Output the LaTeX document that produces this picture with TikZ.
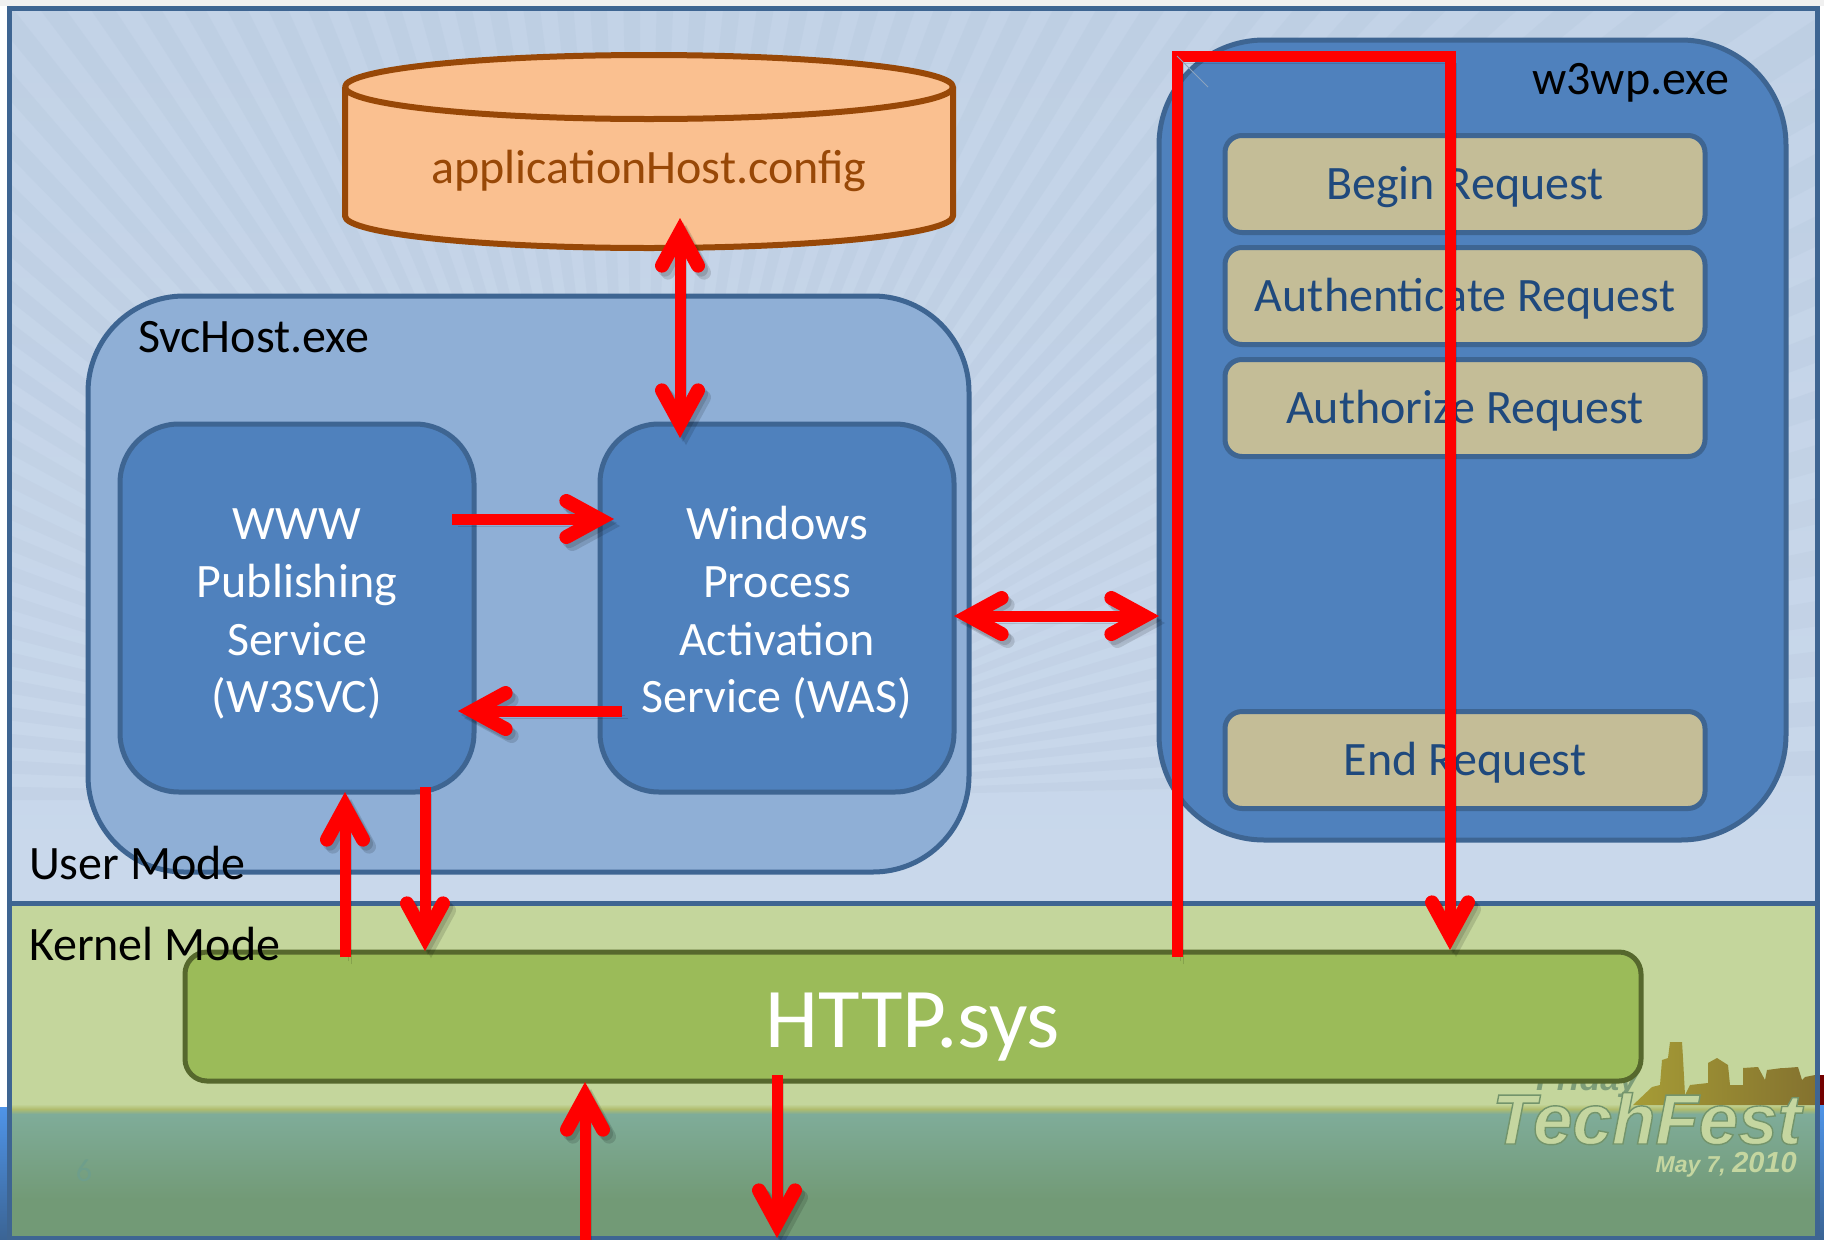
\documentclass[tikz,border=0pt]{standalone}
\usepackage{fontspec}
\setmainfont{Carlito}
\newfontfamily\logofont{Liberation Sans}
\usetikzlibrary{arrows.meta,calc}
\definecolor{skyA}{HTML}{C3D3E7}
\definecolor{skyB}{HTML}{C9D8EB}
\definecolor{rayC}{HTML}{B4C6DC}
\definecolor{frameC}{HTML}{3E6592}
\definecolor{kernelC}{HTML}{C4D69C}
\definecolor{waterA}{HTML}{7FAC99}
\definecolor{waterB}{HTML}{729A76}
\definecolor{stripA}{HTML}{4F94E8}
\definecolor{stripB}{HTML}{3B6494}
\definecolor{hostC}{HTML}{8FAFD6}
\definecolor{procC}{HTML}{4F81BD}
\definecolor{stepC}{HTML}{C4BD97}
\definecolor{stepT}{HTML}{1F497D}
\definecolor{httpC}{HTML}{9BBB59}
\definecolor{httpB}{HTML}{56682D}
\definecolor{cfgC}{HTML}{FAC090}
\definecolor{cfgB}{HTML}{984807}
\definecolor{logoC}{HTML}{C5D6A0}
\definecolor{logoS}{HTML}{5F8468}
\definecolor{skyL}{HTML}{A69C36}
\definecolor{skyR}{HTML}{84722F}
\definecolor{numC}{HTML}{6E9E8B}
\newcommand{\firstline}{\rule{0pt}{43pt}}
\tikzset{
  x=1pt,y=-1pt,
  boxbase/.style={draw=frameC,line width=5pt,outer sep=0pt,inner sep=0pt,align=center},
  hostbox/.style={boxbase,fill=hostC,rounded corners=96pt,minimum width=881pt,minimum height=576pt},
  procbox/.style={boxbase,fill=procC,rounded corners=59pt,minimum width=354pt,minimum height=368pt,text=white,font=\fontsize{48}{57.8}\selectfont},
  workerbox/.style={boxbase,fill=procC,rounded corners=105pt,minimum width=627pt,minimum height=800pt},
  stepbox/.style={boxbase,fill=stepC,rounded corners=17pt,minimum width=480pt,minimum height=97pt,text=stepT,text height=40pt,text depth=10pt,font=\fontsize{48}{55}\selectfont},
  httpbox/.style={boxbase,draw=httpB,fill=httpC,rounded corners=22pt,minimum width=1456pt,minimum height=129pt,text=white,text height=80pt,text depth=18pt,font=\fontsize{85}{96}\selectfont},
  plain label/.style={inner sep=0pt,outer sep=0pt,text=black,font=\fontsize{48}{56}\selectfont},
  redarrow/.style={draw=red,line width=11pt,line join=miter,
    >={Straight Barb[length=33pt,width=36pt,line width=14pt,line cap=round,line join=miter]},
    preaction={draw=black,draw opacity=.13,transform canvas={shift={(3pt,-4pt)}}},
    preaction={draw=black,draw opacity=.13,transform canvas={shift={(6pt,-7pt)}}}},
}
\begin{document}
\begin{tikzpicture}
\useasboundingbox (0,0) rectangle (1824,1240);
% page surround
\fill[white] (0,0) rectangle (1824,1240);
\fill[gray!12] (0,0) rectangle (1824,6);
\shade[top color=stripA,bottom color=stripB] (0,1107) rectangle (8,1240);
\shade[top color=stripA,bottom color=stripB] (1818,1105) rectangle (1824,1240);
\fill[red!45!black] (1818,1075) rectangle (1824,1105);
% user mode background with rays
\shade[top color=skyA,bottom color=skyB] (9,8) rectangle (1817,903);
\begin{scope}
  \clip (9,8) rectangle (1817,903);
  \foreach \a in {180,182.4,...,358}{
    \fill[rayC,opacity=.28] (640,800) -- ++(\a:2000) arc[start angle=\a,end angle=\a+1.2,radius=2000] -- cycle;
  }
\end{scope}
\foreach \y in {420,450,...,780}{
  \fill[skyB,opacity=.16] (9,\y) rectangle (1817,903);
}
% kernel mode + water
\fill[kernelC] (9,903) rectangle (1817,1105);
\shade[top color=kernelC,bottom color=waterA,middle color=kernelC!70!olive] (9,1104) rectangle (1817,1114);
\shade[top color=waterA,bottom color=waterB] (9,1114) rectangle (1817,1200);
\fill[waterB] (9,1200) rectangle (1817,1238);
\node[inner sep=0pt,text=numC,font=\fontsize{32}{36}\selectfont] (pagenum) at (84,1171) {6};
% TechFest logo
\shade[left color=skyL,right color=skyR] (1633,1105) -- (1652,1087) -- (1660,1085) -- (1662,1060) -- (1668,1058) -- (1670,1042) -- (1682,1042) -- (1683,1058) -- (1685,1095) -- (1690,1085) -- (1708,1083) -- (1708,1063) -- (1717,1058) -- (1728,1065) -- (1730,1085) -- (1743,1085) -- (1743,1068) -- (1758,1067) -- (1765,1080) -- (1767,1070) -- (1782,1068) -- (1785,1068) -- (1798,1067) -- (1802,1080) -- (1805,1077) -- (1815,1075) -- (1815,1105) -- cycle;
\node[inner sep=0pt,anchor=base west,text=logoS!70!kernelC,font=\logofont\bfseries\itshape\fontsize{34}{36}\selectfont] (friday) at (1536,1090) {Friday};
\node[inner sep=0pt,anchor=base west,text=logoC,font=\logofont\bfseries\itshape\fontsize{71}{72}\selectfont] (tech) at (1492,1144) {\special{pdf:code q 2 Tr 1.4 w 0.45 0.58 0.42 RG}TechFest\special{pdf:code Q}};
\node[inner sep=0pt,anchor=base east,text=logoC,font=\logofont\bfseries\itshape\fontsize{23}{26}\selectfont] (date) at (1797,1172) {May 7, {\fontsize{29}{30}\selectfont 2010}};
% frame and divider
\draw[frameC,line width=5pt] (9.5,8) rectangle (1817,1238.5);
\draw[frameC,line width=5pt] (9.5,903) -- (1817,903);
% config store
\fill[cfgC] (345,87) -- (345,216) arc[start angle=180,end angle=0,x radius=304,y radius=32] -- (953,87) arc[start angle=0,end angle=-180,x radius=304,y radius=32] -- cycle;
\draw[cfgB,line width=6pt,line join=round] (345,87) -- (345,216) arc[start angle=180,end angle=0,x radius=304,y radius=32] -- (953,87) arc[start angle=0,end angle=180,x radius=304,y radius=32] arc[start angle=180,end angle=360,x radius=304,y radius=32];
\node[inner sep=0pt,outer sep=0pt,minimum width=608pt,minimum height=90pt,text=cfgB,text height=34pt,text depth=10pt,font=\fontsize{48}{56}\selectfont] (cfg) at (649,171) {applicationHost.config};
% svchost
\node[hostbox] (svc) at (528.5,584) {};
\node[anchor=base west] (svclabel) [plain label] at (138,352) {SvcHost.exe};
\node[procbox] (www) at (297,608) {\firstline WWW\\Publishing\\Service\\(W3SVC)};
\node[procbox] (was) at (777,608) {\firstline Windows\\Process\\Activation\\Service (WAS)};
% worker
\node[workerbox] (w3wp) at (1472.5,440) {};
\node[plain label,anchor=base east] (w3label) at (1729,94) {w3wp.exe};
\node[stepbox] (begin) at (1465,184) {Begin Request};
\node[stepbox] (authn) at (1465,296) {Authenticate Request};
\node[stepbox] (authz) at (1465,408) {Authorize Request};
\node[stepbox] (endreq) at (1465,760) {End Request};
% http
\node[httpbox] (http) at (913,1016.5) {HTTP.sys};
% mode labels
\node[plain label,anchor=base west] (user) at (29,879) {User Mode};
\node[plain label,anchor=base west] (kernel) at (29,960) {Kernel Mode};
% connector ends
\coordinate (cfgport) at ([shift={(31,47)}]cfg.center);
\coordinate (wastop) at ([shift={(-97,14)}]was.north);
\coordinate (wwwA) at ([shift={(-22,0)}]www.east |- 0,519);
\coordinate (wasA) at ([shift={(14,0)}]was.west |- 0,519);
\coordinate (wasB) at ([shift={(22,0)}]was.west |- 0,711);
\coordinate (wwwB) at ([shift={(-16,0)}]www.east |- 0,711);
\coordinate (wasR) at (was.east |- 0,616);
\coordinate (w3L) at (w3wp.west |- 0,616);
\coordinate (wwwU) at ([shift={(48,0)}]www.south);
\coordinate (httpU) at ([shift={(-568,5)}]http.north);
\coordinate (wwwD) at ([shift={(128,-5)}]www.south);
\coordinate (httpD) at ([shift={(-488,-1)}]http.north);
\coordinate (httpOut) at ([shift={(264,5)}]http.north);
\coordinate (corner1) at (1177,56);
\coordinate (corner2) at (1450,56);
\coordinate (httpIn) at ([shift={(537,-2)}]http.north);
\coordinate (wireIn) at (585,1240);
\coordinate (httpBi) at ([shift={(-328,1)}]http.south);
\coordinate (httpBo) at ([shift={(-136,-6)}]http.south);
\coordinate (wireOut) at (777,1238);
% connectors
\draw[redarrow,<->] (cfgport) -- (wastop);
\draw[redarrow,->] (wwwA) -- (wasA);
\draw[redarrow,->] (wasB) -- (wwwB);
\draw[redarrow,<->] (wasR) -- (w3L);
\draw[redarrow,->] (httpU) -- (wwwU);
\draw[redarrow,->] (wwwD) -- (httpD);
\draw[redarrow,->] (httpOut) -- (corner1) -- (corner2) -- (httpIn);
\draw[redarrow,->] (wireIn) -- (httpBi);
\draw[redarrow,->] (httpBo) -- (wireOut);
\draw[frameC!60!white,line width=1pt] (1177,56) -- (1208,87);
\end{tikzpicture}
\end{document}
